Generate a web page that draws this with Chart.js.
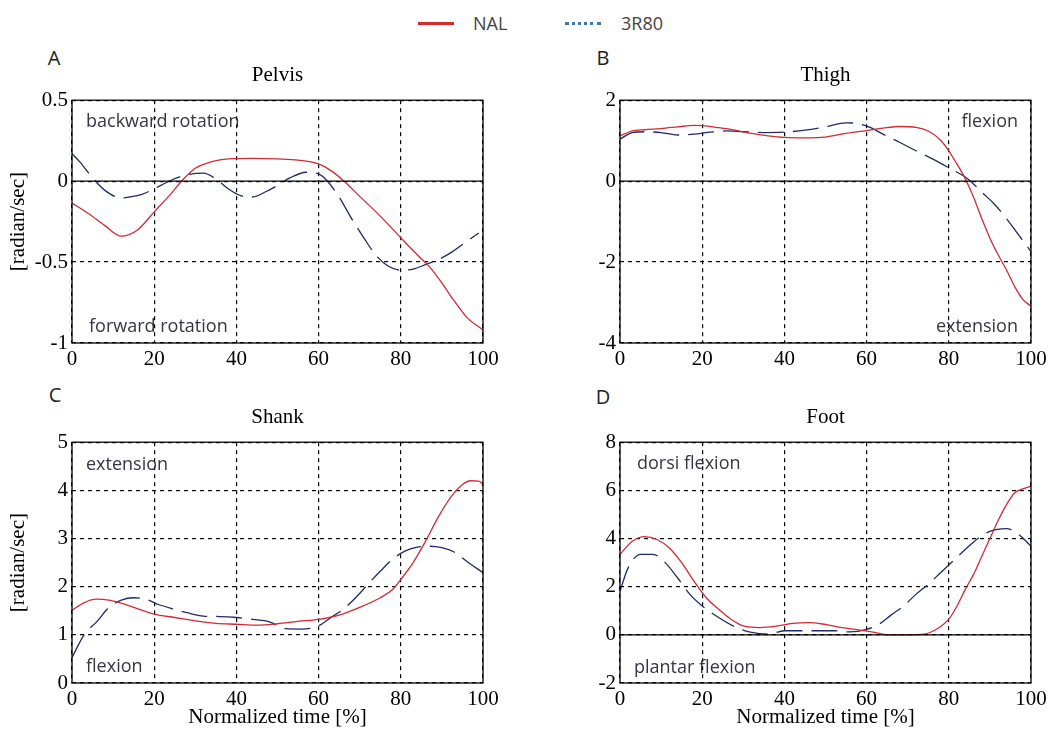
<!DOCTYPE html>
<html>
<head>
<meta charset="utf-8">
<script src="https://cdn.jsdelivr.net/npm/chart.js@4/dist/chart.umd.min.js"></script>
<style>
  html, body { margin: 0; padding: 0; background: #fff; }
  body { width: 1059px; height: 738px; position: relative; overflow: hidden; }
  .pane { position: absolute; }
  .note { position: absolute; font-family: "Open Sans", sans-serif; font-size: 18px; color: #353545; white-space: nowrap; line-height: 1; transform: translateY(-50%); }
  .letter { position: absolute; font-family: "Open Sans", sans-serif; font-size: 20px; color: #222; line-height: 1; transform: translate(-50%, -50%); }
  .legtext { position: absolute; font-family: "Open Sans", sans-serif; font-size: 18px; color: #444; line-height: 1; transform: translateY(-50%); }
  .legline { position: absolute; height: 0; }
</style>
</head>
<body>

<div class="legline" style="left:418px; top:22px; width:36px; border-top:3px solid #d42a2a;"></div>
<div class="legtext" style="left:473px; top:23px;">NAL</div>
<div class="legline" style="left:565px; top:22px; width:36px; border-top:3px dotted #3f78a8;"></div>
<div class="legtext" style="left:621px; top:23px;">3R80</div>

<div class="letter" style="left:54px; top:58px;">A</div>
<div class="letter" style="left:603px; top:58px;">B</div>
<div class="letter" style="left:55px; top:395px;">C</div>
<div class="letter" style="left:603px; top:397px;">D</div>

<div class="pane" style="left:0px; top:40px;"><canvas id="cA" width="530" height="342"></canvas></div>
<div class="pane" style="left:530px; top:40px;"><canvas id="cB" width="529" height="342"></canvas></div>
<div class="pane" style="left:0px; top:382px;"><canvas id="cC" width="530" height="356"></canvas></div>
<div class="pane" style="left:530px; top:382px;"><canvas id="cD" width="529" height="356"></canvas></div>

<div class="note" style="left:86px; top:120px;">backward rotation</div>
<div class="note" style="left:89px; top:325px;">forward rotation</div>
<div class="note" style="right:41px; top:120px;">flexion</div>
<div class="note" style="right:41px; top:325px;">extension</div>
<div class="note" style="left:86px; top:463px;">extension</div>
<div class="note" style="left:86px; top:665px;">flexion</div>
<div class="note" style="left:637px; top:462px;">dorsi flexion</div>
<div class="note" style="left:634px; top:666px;">plantar flexion</div>

<script>
// ---------------- data ----------------
const seriesNames = ["NAL", "3R80"];
const panelTitles = ["Pelvis", "Thigh", "Shank", "Foot"];
const xTicks = [0, 20, 40, 60, 80, 100];
const pelvisTicks = [-1, -0.5, 0, 0.5];
const thighTicks = [-4, -2, 0, 2];
const shankTicks = [0, 1, 2, 3, 4, 5];
const footTicks = [-2, 0, 2, 4, 6, 8];

const pelvisNalX = [0,4,8,12,16,20,24,27,30,34,38,44,50,55,60,63,66,70,75,80,84,87,90,93,96,100];
const pelvisNalY = [-0.135,-0.2,-0.275,-0.34,-0.3,-0.19,-0.08,0.01,0.08,0.12,0.137,0.14,0.137,0.13,0.106,0.065,0.004,-0.094,-0.216,-0.35,-0.455,-0.53,-0.63,-0.74,-0.84,-0.92];
const pelvis3rX = [0,2,5,8,12,14,17,20,24,28,32,35,38,41,44,47,50,53,57,60,62,65,68,71,74,77,80,83,86,89,92,96,99];
const pelvis3rY = [0.17,0.116,0.02,-0.057,-0.104,-0.098,-0.082,-0.047,0.004,0.04,0.05,0.014,-0.047,-0.09,-0.098,-0.067,-0.027,0.02,0.055,0.045,0.004,-0.098,-0.23,-0.35,-0.46,-0.526,-0.55,-0.543,-0.516,-0.486,-0.445,-0.373,-0.32];

const thighNalX = [0,3,6,10,14,18,20,24,28,32,36,40,45,50,55,60,64,68,72,75,78,80,82,84,86,88,90,92,94,96,98,100];
const thighNalY = [1.12,1.24,1.27,1.30,1.34,1.38,1.37,1.32,1.26,1.18,1.12,1.08,1.07,1.09,1.18,1.25,1.31,1.35,1.33,1.24,1.01,0.75,0.42,0.06,-0.39,-0.92,-1.41,-1.82,-2.19,-2.6,-2.92,-3.09];
const thigh3rX = [0,3,6,10,14,18,22,26,30,35,40,45,50,55,58,61,64,68,72,76,80,84,86,88,91,94,97,100];
const thigh3rY = [1.04,1.2,1.22,1.2,1.14,1.16,1.21,1.24,1.22,1.2,1.21,1.26,1.34,1.44,1.42,1.32,1.16,0.96,0.75,0.55,0.33,0.1,-0.07,-0.27,-0.56,-0.92,-1.33,-1.74];

const shankNalX = [0,3,6,9,12,15,20,25,30,35,40,45,50,55,60,65,70,75,78,80,83,86,89,92,95,97,99,100];
const shankNalY = [1.51,1.67,1.74,1.72,1.66,1.57,1.43,1.36,1.29,1.24,1.22,1.2,1.23,1.28,1.32,1.41,1.57,1.77,1.94,2.15,2.5,2.94,3.43,3.84,4.12,4.2,4.19,4.12];
const shank3rX = [0,3,6,9,12,15,18,21,25,28,32,36,40,44,48,52,56,60,63,66,69,72,75,78,81,84,87,90,93,96,100];
const shank3rY = [0.53,1.01,1.27,1.57,1.72,1.77,1.74,1.63,1.53,1.46,1.39,1.38,1.36,1.32,1.27,1.13,1.12,1.19,1.36,1.53,1.77,2.05,2.32,2.57,2.74,2.82,2.84,2.81,2.72,2.53,2.29];

const footNalX = [0,3,6,9,12,15,18,21,24,27,30,34,38,42,46,50,54,58,62,65,70,74,77,80,82,84,86,88,90,92,94,96,98,100];
const footNalY = [3.34,3.89,4.08,3.96,3.61,3.0,2.23,1.54,1.06,0.65,0.37,0.3,0.36,0.48,0.51,0.43,0.3,0.21,0.1,0,0,0.03,0.23,0.65,1.2,1.89,2.5,3.25,4.0,4.75,5.4,5.89,6.06,6.17];
const foot3rX = [0,2,5,8,11,14,17,20,24,28,32,36,40,46,52,56,60,63,66,69,72,75,78,81,84,87,90,94,97,100];
const foot3rY = [1.82,2.79,3.34,3.34,3.0,2.37,1.68,1.2,0.72,0.33,0.1,0.03,0.17,0.17,0.17,0.12,0.23,0.44,0.83,1.2,1.68,2.1,2.58,3.06,3.54,3.99,4.3,4.41,4.17,3.68];

// ---------------- drawing ----------------
const SERIF = "'Liberation Serif', 'Times New Roman', serif";
const zip = (xs, ys) => xs.map((x, i) => ({ x: x, y: ys[i] }));

const framePlugin = {
  id: 'frame',
  afterDatasetsDraw(chart) {
    const { ctx, chartArea: a, scales } = chart;
    ctx.save();
    ctx.strokeStyle = '#000';
    ctx.lineWidth = 1.3;
    ctx.setLineDash([]);
    const y0 = scales.y.getPixelForValue(0);
    if (y0 > a.top + 1 && y0 < a.bottom - 1) {
      ctx.beginPath();
      ctx.moveTo(a.left, y0);
      ctx.lineTo(a.right, y0);
      ctx.stroke();
    }
    ctx.strokeRect(a.left, a.top, a.right - a.left, a.bottom - a.top);
    ctx.restore();
  }
};

function makePanel(id, o) {
  const ctx = document.getElementById(id);
  return new Chart(ctx, {
    type: 'line',
    data: {
      datasets: [
        {
          label: seriesNames[0],
          data: zip(o.nalX, o.nalY),
          borderColor: '#d42a34',
          borderWidth: 1.3,
          pointRadius: 0,
          cubicInterpolationMode: 'monotone',
          fill: false
        },
        {
          label: seriesNames[1],
          data: zip(o.r3X, o.r3Y),
          borderColor: '#1e2b66',
          borderWidth: 1.3,
          borderDash: [26, 9],
          pointRadius: 0,
          cubicInterpolationMode: 'monotone',
          fill: false
        }
      ]
    },
    options: {
      responsive: false,
      devicePixelRatio: 1,
      animation: false,
      layout: { padding: { left: 0, right: o.padRight, top: 0, bottom: 0 } },
      plugins: {
        legend: { display: false },
        tooltip: { enabled: false },
        title: {
          display: true,
          fullSize: false,
          text: o.title,
          color: '#000',
          font: { family: SERIF, size: 21, weight: 'normal', lineHeight: 1.2 },
          padding: { top: 23, bottom: 12 }
        }
      },
      scales: {
        x: {
          type: 'linear',
          min: 0, max: 100,
          afterBuildTicks: s => { s.ticks = xTicks.map(v => ({ value: v })); },
          afterFit: s => { s.height = o.xHeight; },
          grid: { color: '#000', lineWidth: 1.2, drawTicks: false },
          border: { display: false, dash: [4, 4] },
          ticks: {
            autoSkip: false, maxRotation: 0, padding: 4, color: '#000',
            font: { family: SERIF, size: 21 },
            callback: v => String(v)
          },
          title: {
            display: o.xTitle, text: 'Normalized time [%]', color: '#000',
            font: { family: SERIF, size: 21, lineHeight: 1.2 },
            padding: { top: 0, bottom: 8 }
          }
        },
        y: {
          type: 'linear',
          min: o.ticks[0], max: o.ticks[o.ticks.length - 1],
          afterBuildTicks: s => { s.ticks = o.ticks.map(v => ({ value: v })); },
          afterFit: s => { s.width = o.yWidth; },
          grid: { color: '#000', lineWidth: 1.2, drawTicks: false },
          border: { display: false, dash: [4, 4] },
          ticks: {
            autoSkip: false, padding: 4, color: '#000',
            font: { family: SERIF, size: 21 },
            callback: v => String(v)
          },
          title: {
            display: o.yTitle, text: '[radian/sec]', color: '#000',
            font: { family: SERIF, size: 21, lineHeight: 1.2 },
            padding: { top: 6, bottom: 0 }
          }
        }
      }
    },
    plugins: [framePlugin]
  });
}

makePanel('cA', { title: panelTitles[0], nalX: pelvisNalX, nalY: pelvisNalY, r3X: pelvis3rX, r3Y: pelvis3rY,
  ticks: pelvisTicks, yWidth: 72, padRight: 47, xHeight: 39, xTitle: false, yTitle: true });
makePanel('cB', { title: panelTitles[1], nalX: thighNalX, nalY: thighNalY, r3X: thigh3rX, r3Y: thigh3rY,
  ticks: thighTicks, yWidth: 90, padRight: 28, xHeight: 39, xTitle: false, yTitle: false });
makePanel('cC', { title: panelTitles[2], nalX: shankNalX, nalY: shankNalY, r3X: shank3rX, r3Y: shank3rY,
  ticks: shankTicks, yWidth: 72, padRight: 47, xHeight: 55, xTitle: true, yTitle: true });
makePanel('cD', { title: panelTitles[3], nalX: footNalX, nalY: footNalY, r3X: foot3rX, r3Y: foot3rY,
  ticks: footTicks, yWidth: 90, padRight: 28, xHeight: 55, xTitle: true, yTitle: false });
</script>
</body>
</html>
